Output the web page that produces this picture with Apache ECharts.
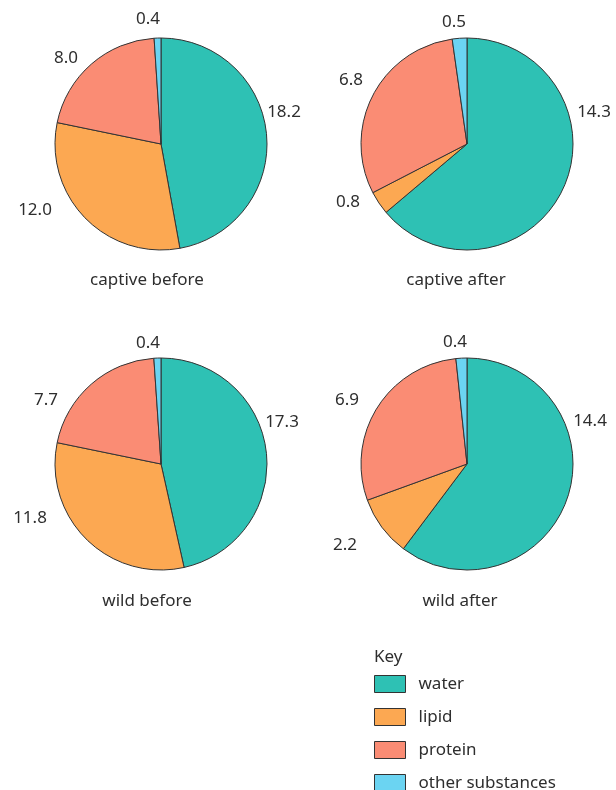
<!DOCTYPE html>
<html>
<head>
<meta charset="utf-8">
<script src="https://cdn.jsdelivr.net/npm/echarts@6/dist/echarts.min.js"></script>
<style>
  html, body { margin: 0; padding: 0; background: #fff; }
  #chart { width: 616px; height: 790px; }
</style>
</head>
<body>
<div id="chart"></div>
<script>
// Body composition, split by substance (same order in every pie)
const substances = ['water', 'lipid', 'protein', 'other substances'];
const colors = ['#2EC1B4', '#FCA852', '#FA8C74', '#6BD4F2'];

const captiveBefore = [18.2, 12.0, 8.0, 0.4];
const captiveAfter  = [14.3, 0.8, 6.8, 0.5];
const wildBefore    = [17.3, 11.8, 7.7, 0.4];
const wildAfter     = [14.4, 2.2, 6.9, 0.4];

const groups = ['captive before', 'captive after', 'wild before', 'wild after'];
const groupValues = [captiveBefore, captiveAfter, wildBefore, wildAfter];

const FONT = '"Noto Sans", "Open Sans", sans-serif';
const TEXT = '#2e2e2e';

// Layout: pie centres, caption anchors, and value-label offsets from each pie centre
const centers = [[161, 144], [467, 144], [161, 464], [467, 464]];
const captionPos = [[147, 272], [456, 272], [147, 593], [460, 593]];
const labelOffsets = [
  [[123, -32], [-126, 66], [-95, -86], [-13, -125]],
  [[127, -32], [-119, 58], [-116, -64], [-13, -122]],
  [[121, -42], [-131, 54], [-115, -64], [-13, -121]],
  [[123, -43], [-122, 81], [-120, -64], [-12, -122]]
];

const series = groupValues.map((vals, i) => ({
  type: 'pie',
  name: groups[i],
  center: centers[i],
  radius: 106,
  startAngle: 90,
  clockwise: true,
  avoidLabelOverlap: false,
  animation: false,
  itemStyle: { borderColor: '#333', borderWidth: 1 },
  label: {
    show: true,
    position: 'outside',
    formatter: p => p.value.toFixed(1),
    fontFamily: FONT,
    fontSize: 17,
    color: TEXT
  },
  labelLine: { show: false },
  labelLayout: p => {
    const off = labelOffsets[i][p.dataIndex];
    return {
      x: centers[i][0] + off[0],
      y: centers[i][1] + off[1],
      align: 'center',
      verticalAlign: 'middle'
    };
  },
  emphasis: { disabled: true },
  data: substances.map((s, k) => ({ name: s, value: vals[k] }))
}));

const titles = groups.map((g, i) => ({
  text: g,
  left: captionPos[i][0],
  top: captionPos[i][1],
  padding: 0,
  textAlign: 'center',
  textStyle: { fontFamily: FONT, fontSize: 17, fontWeight: 'normal', color: TEXT }
}));
titles.push({
  text: 'Key',
  left: 374,
  top: 649,
  padding: 0,
  textStyle: { fontFamily: FONT, fontSize: 17, fontWeight: 'normal', color: TEXT }
});

const chart = echarts.init(document.getElementById('chart'), null, { renderer: 'canvas' });
chart.setOption({
  color: colors,
  title: titles,
  legend: {
    data: substances,
    orient: 'vertical',
    left: 374,
    top: 675,
    height: 160,
    padding: 0,
    icon: 'rect',
    itemWidth: 31,
    itemHeight: 17,
    itemGap: 15,
    selectedMode: false,
    itemStyle: { borderColor: '#333', borderWidth: 1 },
    textStyle: { fontFamily: FONT, fontSize: 17, color: TEXT, padding: [0, 0, 0, 8] }
  },
  series: series
});
</script>
</body>
</html>
